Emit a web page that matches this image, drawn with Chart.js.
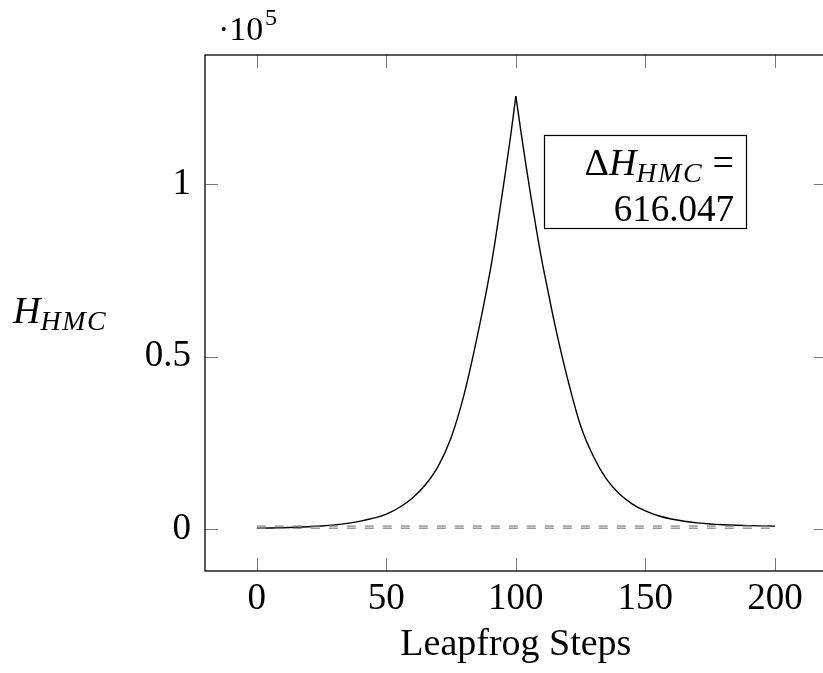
<!DOCTYPE html>
<html>
<head>
<meta charset="utf-8">
<script src="https://cdn.jsdelivr.net/npm/chart.js@4.4.0/dist/chart.umd.min.js"></script>
<style>
  html, body { margin: 0; padding: 0; overflow: hidden; background: #fff; }
  #wrap { width: 830px; height: 673px; }
</style>
</head>
<body>
<div id="wrap"><canvas id="myChart" width="830" height="673"></canvas></div>
<script>
// H_HMC along the leapfrog trajectory
const riseSteps = [0, 5, 10, 15, 20, 25, 30, 35, 40, 45, 50, 55, 60, 65, 70, 75, 80, 85, 90, 92, 94, 96, 98, 100];
const riseH = [300, 360, 440, 560, 720, 940, 1250, 1700, 2350, 3200, 4400, 6300, 9000, 12800, 18200, 26500, 39000, 55500, 74500, 83500, 93500, 103500, 114000, 125500];
const fallSteps = [100, 102, 104, 106, 108, 110, 112, 115, 120, 125, 130, 135, 140, 145, 150, 155, 160, 165, 170, 175, 180, 185, 190, 195, 200];
const fallH = [125500, 115000, 105000, 95500, 86500, 78000, 70500, 59500, 43500, 30000, 21000, 14500, 10200, 7300, 5300, 3900, 2950, 2300, 1850, 1520, 1300, 1150, 1040, 970, 916];
const levelSteps = [0, 200];
const startH = 300;
const endH = 916;
const deltaText = "616.047";
const xTicks = [0, 50, 100, 150, 200];
const yTicks = [0, 50000, 100000];

const serif = "'Liberation Serif', 'DejaVu Serif', serif";

function pts(xs, ys) {
  return xs.map((x, i) => ({ x: x, y: ys[i] }));
}

// draws H with an italic HMC subscript, returns the end x
function drawHsub(c, x, y, big, small, dry) {
  c.font = 'italic ' + big + 'px ' + serif;
  const wH = c.measureText('H').width;
  if (!dry) c.fillText('H', x, y);
  c.font = 'italic ' + small + 'px ' + serif;
  c.letterSpacing = '1.5px';
  const wS = c.measureText('HMC').width;
  if (!dry) c.fillText('HMC', x + wH, y + 7);
  c.letterSpacing = '0px';
  return x + wH + wS;
}

const extras = {
  id: 'extras',
  afterDraw(chart) {
    const c = chart.ctx;
    const a = chart.chartArea;
    const xs = chart.scales.x, ys = chart.scales.y;
    c.save();
    // inward ticks on all four sides
    c.strokeStyle = '#777';
    c.lineWidth = 1;
    c.beginPath();
    xs.ticks.forEach(t => {
      const px = Math.round(xs.getPixelForValue(t.value)) + 0.5;
      c.moveTo(px, a.bottom); c.lineTo(px, a.bottom - 13);
      c.moveTo(px, a.top); c.lineTo(px, a.top + 13);
    });
    ys.ticks.forEach(t => {
      const py = Math.round(ys.getPixelForValue(t.value)) + 0.5;
      c.moveTo(a.left, py); c.lineTo(a.left + 13, py);
      c.moveTo(a.right, py); c.lineTo(a.right - 13, py);
    });
    c.stroke();
    // frame
    c.strokeStyle = '#000';
    c.lineWidth = 1.3;
    c.strokeRect(a.left, a.top, a.right - a.left, a.bottom - a.top);

    c.fillStyle = '#000';
    c.textBaseline = 'alphabetic';
    c.textAlign = 'left';
    // y axis title H_HMC
    const midY = (a.top + a.bottom) / 2 + 10;
    drawHsub(c, 13, midY, 38, 28, false);
    // scale factor ·10^5
    c.font = '34px ' + serif;
    c.fillText('\u00b710', 218, 40);
    c.font = '24px ' + serif;
    c.fillText('5', 265, 25);

    // annotation box
    c.lineWidth = 1.2;
    c.strokeRect(544.5, 135.5, 202, 93);
    const right = 734;
    c.font = '38px ' + serif;
    const wD = c.measureText('\u0394').width;
    const wEq = c.measureText(' =').width;
    const wHs = drawHsub(c, 0, 0, 38, 28, true);
    let x0 = right - (wD + wHs + wEq);
    c.font = '38px ' + serif;
    c.fillText('\u0394', x0, 175);
    x0 = drawHsub(c, x0 + wD, 175, 38, 28, false);
    c.font = '38px ' + serif;
    c.fillText(' =', x0, 175);
    c.font = '37px ' + serif;
    c.textAlign = 'right';
    c.fillText(deltaText, right, 221);
    c.restore();
  }
};

const ctx = document.getElementById('myChart');
new Chart(ctx, {
  type: 'line',
  data: {
    datasets: [
      { data: pts(levelSteps, [startH, startH]), borderColor: '#808080', borderWidth: 1.2, borderDash: [9, 9], pointRadius: 0 },
      { data: pts(levelSteps, [endH, endH]), borderColor: '#808080', borderWidth: 1.2, borderDash: [9, 9], pointRadius: 0 },
      { data: pts(riseSteps, riseH), borderColor: '#000', borderWidth: 1.4, pointRadius: 0, cubicInterpolationMode: 'monotone' },
      { data: pts(fallSteps, fallH), borderColor: '#000', borderWidth: 1.4, pointRadius: 0, cubicInterpolationMode: 'monotone' }
    ]
  },
  options: {
    responsive: false,
    animation: false,
    layout: { padding: { left: 0, top: 55, right: 3.3, bottom: 0 } },
    plugins: { legend: { display: false }, tooltip: { enabled: false } },
    scales: {
      x: {
        type: 'linear',
        min: -20,
        max: 220,
        afterBuildTicks: s => { s.ticks = xTicks.map(v => ({ value: v })); },
        afterFit: s => { s.height = 102; },
        grid: { display: false },
        border: { display: false },
        ticks: { color: '#000', padding: -2, font: { family: serif, size: 37 } },
        title: { display: true, text: 'Leapfrog Steps', color: '#000', padding: { top: 0, bottom: 5 }, font: { family: serif, size: 38 } }
      },
      y: {
        type: 'linear',
        min: -12100,
        max: 137400,
        afterBuildTicks: s => { s.ticks = yTicks.map(v => ({ value: v })); },
        afterFit: s => { s.width = 205; },
        grid: { display: false },
        border: { display: false },
        ticks: { color: '#000', padding: 6, font: { family: serif, size: 37 }, callback: v => String(v / 100000) }
      }
    }
  },
  plugins: [extras]
});
</script>
</body>
</html>
